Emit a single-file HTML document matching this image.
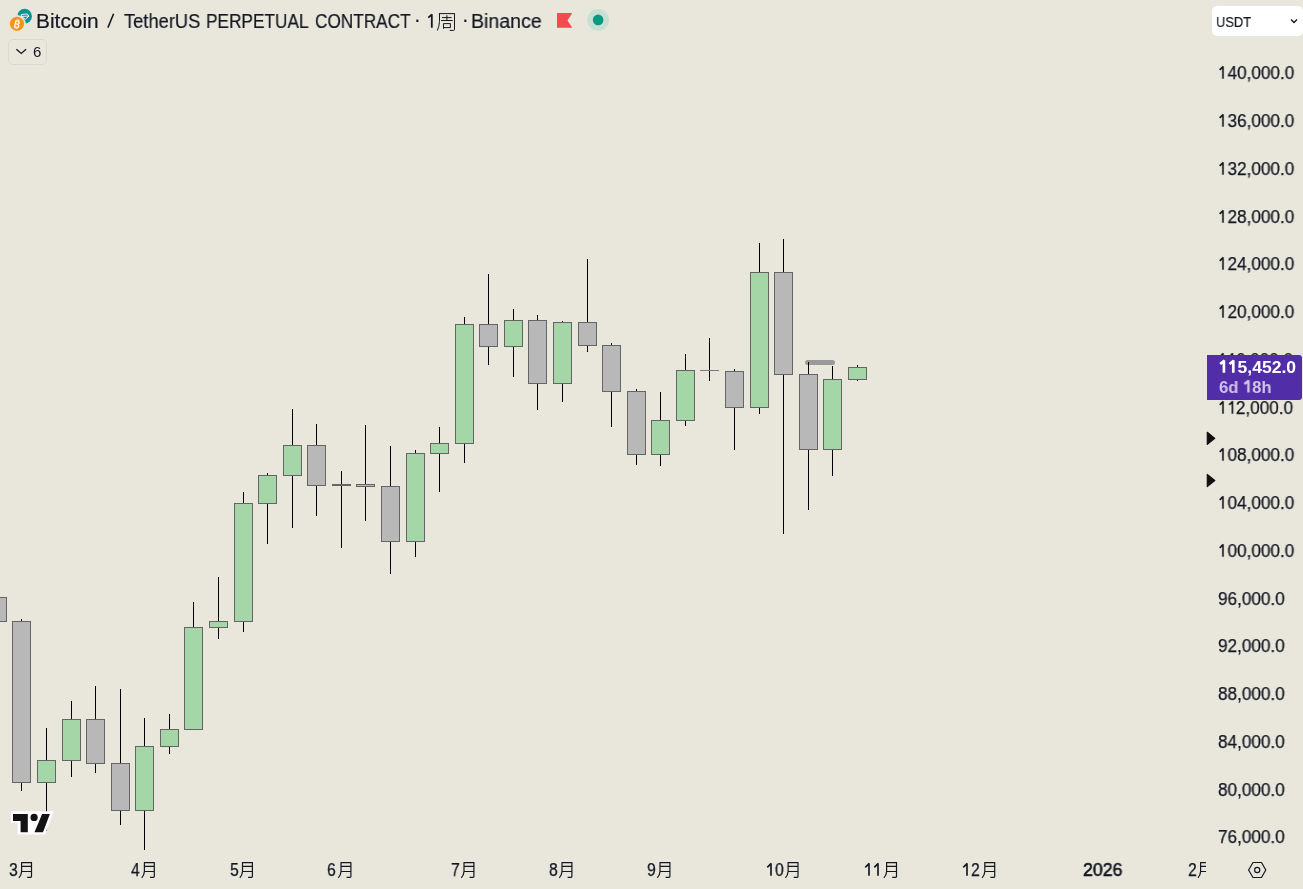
<!DOCTYPE html>
<html><head><meta charset="utf-8"><style>
*{margin:0;padding:0;box-sizing:border-box}
html,body{width:1303px;height:889px;overflow:hidden;background:#E9E7DC;font-family:"Liberation Sans",sans-serif;color:#131722}
.abs{position:absolute;white-space:pre;line-height:1;will-change:transform}
.pl{position:absolute;will-change:transform;-webkit-text-stroke:0.25px #131722;left:1218.05px;font-size:18px;line-height:18px;white-space:pre;transform:scaleX(0.953);transform-origin:0 0;color:#131722}
.tl{position:absolute;will-change:transform;-webkit-text-stroke:0.25px #131722;top:860.9px;font-size:18px;line-height:18px;white-space:pre;transform:scaleX(0.87);transform-origin:0 0;color:#131722}
.hd{position:absolute;will-change:transform;-webkit-text-stroke:0.2px #131722;top:10.6px;font-size:20px;line-height:20px;white-space:pre;transform-origin:0 0;color:#131722}
#chart{position:absolute;left:0;top:0}
.ph{color:transparent;-webkit-text-stroke-color:transparent}
</style></head><body>
<svg id="chart" width="1303" height="889" viewBox="0 0 1303 889" shape-rendering="crispEdges">
<rect x="805" y="360" width="30" height="5" rx="2.5" fill="#9A9A9A" shape-rendering="geometricPrecision"/>
<g>
<rect x="-12" y="597" width="19" height="25" fill="#656565"/>
<rect x="-11" y="598" width="17" height="23" fill="#B8B8B8"/>
<rect x="21" y="619" width="1" height="172" fill="#000000"/>
<rect x="12" y="621" width="19" height="162" fill="#656565"/>
<rect x="13" y="622" width="17" height="160" fill="#B8B8B8"/>
<rect x="46" y="728" width="1" height="103" fill="#000000"/>
<rect x="37" y="760" width="19" height="23" fill="#656565"/>
<rect x="38" y="761" width="17" height="21" fill="#A5D6A7"/>
<rect x="71" y="701" width="1" height="76" fill="#000000"/>
<rect x="62" y="719" width="19" height="42" fill="#656565"/>
<rect x="63" y="720" width="17" height="40" fill="#A5D6A7"/>
<rect x="95" y="686" width="1" height="87" fill="#000000"/>
<rect x="86" y="719" width="19" height="45" fill="#656565"/>
<rect x="87" y="720" width="17" height="43" fill="#B8B8B8"/>
<rect x="120" y="689" width="1" height="136" fill="#000000"/>
<rect x="111" y="763" width="19" height="48" fill="#656565"/>
<rect x="112" y="764" width="17" height="46" fill="#B8B8B8"/>
<rect x="144" y="718" width="1" height="132" fill="#000000"/>
<rect x="135" y="746" width="19" height="65" fill="#656565"/>
<rect x="136" y="747" width="17" height="63" fill="#A5D6A7"/>
<rect x="169" y="714" width="1" height="40" fill="#000000"/>
<rect x="160" y="729" width="19" height="18" fill="#656565"/>
<rect x="161" y="730" width="17" height="16" fill="#A5D6A7"/>
<rect x="193" y="602" width="1" height="127" fill="#000000"/>
<rect x="184" y="627" width="19" height="103" fill="#656565"/>
<rect x="185" y="628" width="17" height="101" fill="#A5D6A7"/>
<rect x="218" y="577" width="1" height="62" fill="#000000"/>
<rect x="209" y="621" width="19" height="7" fill="#656565"/>
<rect x="210" y="622" width="17" height="5" fill="#A5D6A7"/>
<rect x="243" y="492" width="1" height="140" fill="#000000"/>
<rect x="234" y="503" width="19" height="119" fill="#656565"/>
<rect x="235" y="504" width="17" height="117" fill="#A5D6A7"/>
<rect x="267" y="473" width="1" height="71" fill="#000000"/>
<rect x="258" y="475" width="19" height="29" fill="#656565"/>
<rect x="259" y="476" width="17" height="27" fill="#A5D6A7"/>
<rect x="292" y="409" width="1" height="119" fill="#000000"/>
<rect x="283" y="445" width="19" height="31" fill="#656565"/>
<rect x="284" y="446" width="17" height="29" fill="#A5D6A7"/>
<rect x="316" y="424" width="1" height="92" fill="#000000"/>
<rect x="307" y="445" width="19" height="41" fill="#656565"/>
<rect x="308" y="446" width="17" height="39" fill="#B8B8B8"/>
<rect x="341" y="471" width="1" height="77" fill="#000000"/>
<rect x="332" y="484" width="19" height="2" fill="#656565"/>
<rect x="365" y="425" width="1" height="96" fill="#000000"/>
<rect x="356" y="484" width="19" height="3" fill="#656565"/>
<rect x="357" y="485" width="17" height="1" fill="#B8B8B8"/>
<rect x="390" y="446" width="1" height="128" fill="#000000"/>
<rect x="381" y="486" width="19" height="56" fill="#656565"/>
<rect x="382" y="487" width="17" height="54" fill="#B8B8B8"/>
<rect x="415" y="450" width="1" height="107" fill="#000000"/>
<rect x="406" y="453" width="19" height="89" fill="#656565"/>
<rect x="407" y="454" width="17" height="87" fill="#A5D6A7"/>
<rect x="439" y="427" width="1" height="65" fill="#000000"/>
<rect x="430" y="443" width="19" height="11" fill="#656565"/>
<rect x="431" y="444" width="17" height="9" fill="#A5D6A7"/>
<rect x="464" y="317" width="1" height="146" fill="#000000"/>
<rect x="455" y="324" width="19" height="120" fill="#656565"/>
<rect x="456" y="325" width="17" height="118" fill="#A5D6A7"/>
<rect x="488" y="274" width="1" height="91" fill="#000000"/>
<rect x="479" y="324" width="19" height="23" fill="#656565"/>
<rect x="480" y="325" width="17" height="21" fill="#B8B8B8"/>
<rect x="513" y="309" width="1" height="68" fill="#000000"/>
<rect x="504" y="320" width="19" height="27" fill="#656565"/>
<rect x="505" y="321" width="17" height="25" fill="#A5D6A7"/>
<rect x="537" y="315" width="1" height="95" fill="#000000"/>
<rect x="528" y="320" width="19" height="64" fill="#656565"/>
<rect x="529" y="321" width="17" height="62" fill="#B8B8B8"/>
<rect x="562" y="321" width="1" height="81" fill="#000000"/>
<rect x="553" y="322" width="19" height="62" fill="#656565"/>
<rect x="554" y="323" width="17" height="60" fill="#A5D6A7"/>
<rect x="587" y="259" width="1" height="93" fill="#000000"/>
<rect x="578" y="322" width="19" height="24" fill="#656565"/>
<rect x="579" y="323" width="17" height="22" fill="#B8B8B8"/>
<rect x="611" y="343" width="1" height="84" fill="#000000"/>
<rect x="602" y="345" width="19" height="47" fill="#656565"/>
<rect x="603" y="346" width="17" height="45" fill="#B8B8B8"/>
<rect x="636" y="389" width="1" height="76" fill="#000000"/>
<rect x="627" y="391" width="19" height="64" fill="#656565"/>
<rect x="628" y="392" width="17" height="62" fill="#B8B8B8"/>
<rect x="660" y="392" width="1" height="74" fill="#000000"/>
<rect x="651" y="420" width="19" height="35" fill="#656565"/>
<rect x="652" y="421" width="17" height="33" fill="#A5D6A7"/>
<rect x="685" y="354" width="1" height="72" fill="#000000"/>
<rect x="676" y="370" width="19" height="51" fill="#656565"/>
<rect x="677" y="371" width="17" height="49" fill="#A5D6A7"/>
<rect x="709" y="338" width="1" height="43" fill="#000000"/>
<rect x="700" y="370" width="19" height="1" fill="#7A7A7A"/>
<rect x="734" y="369" width="1" height="81" fill="#000000"/>
<rect x="725" y="371" width="19" height="37" fill="#656565"/>
<rect x="726" y="372" width="17" height="35" fill="#B8B8B8"/>
<rect x="759" y="243" width="1" height="171" fill="#000000"/>
<rect x="750" y="272" width="19" height="136" fill="#656565"/>
<rect x="751" y="273" width="17" height="134" fill="#A5D6A7"/>
<rect x="783" y="239" width="1" height="295" fill="#000000"/>
<rect x="774" y="272" width="19" height="103" fill="#656565"/>
<rect x="775" y="273" width="17" height="101" fill="#B8B8B8"/>
<rect x="808" y="362" width="1" height="148" fill="#000000"/>
<rect x="799" y="374" width="19" height="76" fill="#656565"/>
<rect x="800" y="375" width="17" height="74" fill="#B8B8B8"/>
<rect x="832" y="366" width="1" height="110" fill="#000000"/>
<rect x="823" y="379" width="19" height="71" fill="#656565"/>
<rect x="824" y="380" width="17" height="69" fill="#A5D6A7"/>
<rect x="857" y="365" width="1" height="16" fill="#000000"/>
<rect x="848" y="367" width="19" height="13" fill="#656565"/>
<rect x="849" y="368" width="17" height="11" fill="#A5D6A7"/>
</g>
<g shape-rendering="geometricPrecision">
<path d="M10.9 811.2 H53.6 L45.1 834.6 H17.7 V823.1 H10.9 Z" fill="#FFFFFF"/>
<path d="M13 814 H27.8 V832.2 H20.6 V821 H13 Z" fill="#131313"/>
<path d="M42.1 814 H49.9 L43 832.2 H34.5 Z" fill="#131313"/>
<circle cx="34.1" cy="817.4" r="3.6" fill="#131313"/>
</g>
<clipPath id="clipChart"><rect x="0" y="0" width="1206" height="889"/></clipPath>
<g shape-rendering="geometricPrecision" clip-path="url(#clipChart)">
<g transform="translate(18.0 862)" fill="none" stroke="#131722" stroke-width="1.2"><path d="M3.1 0.6 H14 M3.6 0.6 V9.6 Q3.4 13 0.9 15.8 M13.5 0.6 V14.6 Q13.5 15.4 12.6 15.4 H9.2 M3.6 4.4 H13.5 M3.6 9.5 H13.5"/></g>
<g transform="translate(140.8 862)" fill="none" stroke="#131722" stroke-width="1.2"><path d="M3.1 0.6 H14 M3.6 0.6 V9.6 Q3.4 13 0.9 15.8 M13.5 0.6 V14.6 Q13.5 15.4 12.6 15.4 H9.2 M3.6 4.4 H13.5 M3.6 9.5 H13.5"/></g>
<g transform="translate(238.9 862)" fill="none" stroke="#131722" stroke-width="1.2"><path d="M3.1 0.6 H14 M3.6 0.6 V9.6 Q3.4 13 0.9 15.8 M13.5 0.6 V14.6 Q13.5 15.4 12.6 15.4 H9.2 M3.6 4.4 H13.5 M3.6 9.5 H13.5"/></g>
<g transform="translate(337.4 862)" fill="none" stroke="#131722" stroke-width="1.2"><path d="M3.1 0.6 H14 M3.6 0.6 V9.6 Q3.4 13 0.9 15.8 M13.5 0.6 V14.6 Q13.5 15.4 12.6 15.4 H9.2 M3.6 4.4 H13.5 M3.6 9.5 H13.5"/></g>
<g transform="translate(460.4 862)" fill="none" stroke="#131722" stroke-width="1.2"><path d="M3.1 0.6 H14 M3.6 0.6 V9.6 Q3.4 13 0.9 15.8 M13.5 0.6 V14.6 Q13.5 15.4 12.6 15.4 H9.2 M3.6 4.4 H13.5 M3.6 9.5 H13.5"/></g>
<g transform="translate(558.4 862)" fill="none" stroke="#131722" stroke-width="1.2"><path d="M3.1 0.6 H14 M3.6 0.6 V9.6 Q3.4 13 0.9 15.8 M13.5 0.6 V14.6 Q13.5 15.4 12.6 15.4 H9.2 M3.6 4.4 H13.5 M3.6 9.5 H13.5"/></g>
<g transform="translate(656.4 862)" fill="none" stroke="#131722" stroke-width="1.2"><path d="M3.1 0.6 H14 M3.6 0.6 V9.6 Q3.4 13 0.9 15.8 M13.5 0.6 V14.6 Q13.5 15.4 12.6 15.4 H9.2 M3.6 4.4 H13.5 M3.6 9.5 H13.5"/></g>
<g transform="translate(784.5 862)" fill="none" stroke="#131722" stroke-width="1.2"><path d="M3.1 0.6 H14 M3.6 0.6 V9.6 Q3.4 13 0.9 15.8 M13.5 0.6 V14.6 Q13.5 15.4 12.6 15.4 H9.2 M3.6 4.4 H13.5 M3.6 9.5 H13.5"/></g>
<g transform="translate(883.0 862)" fill="none" stroke="#131722" stroke-width="1.2"><path d="M3.1 0.6 H14 M3.6 0.6 V9.6 Q3.4 13 0.9 15.8 M13.5 0.6 V14.6 Q13.5 15.4 12.6 15.4 H9.2 M3.6 4.4 H13.5 M3.6 9.5 H13.5"/></g>
<g transform="translate(981.2 862)" fill="none" stroke="#131722" stroke-width="1.2"><path d="M3.1 0.6 H14 M3.6 0.6 V9.6 Q3.4 13 0.9 15.8 M13.5 0.6 V14.6 Q13.5 15.4 12.6 15.4 H9.2 M3.6 4.4 H13.5 M3.6 9.5 H13.5"/></g>
<g transform="translate(1197.0 862)" fill="none" stroke="#131722" stroke-width="1.2"><path d="M3.1 0.6 H14 M3.6 0.6 V9.6 Q3.4 13 0.9 15.8 M13.5 0.6 V14.6 Q13.5 15.4 12.6 15.4 H9.2 M3.6 4.4 H13.5 M3.6 9.5 H13.5"/></g>
</g>
</svg>
<!-- header -->
<svg class="abs" style="left:0;top:0" width="40" height="40" viewBox="0 0 40 40">
 <circle cx="24.6" cy="16.2" r="7.35" fill="#0C9494"/>
 <circle cx="17" cy="23.8" r="8.7" fill="#E9E7DC"/>
 <circle cx="17" cy="23.8" r="7.1" fill="#F7931A"/>
 <path d="M21.3 14.6 L27.2 13.9 L28.9 16.1 L25.4 19.3 L21.4 16.4 Z M21.4 16.4 L28.9 16.1" fill="none" stroke="#fff" stroke-width="0.9" stroke-linejoin="round"/>
 <g transform="rotate(14 17 24)">
  <text x="17.2" y="27.9" font-family="Liberation Sans" font-weight="bold" font-size="10.5" fill="#fff" text-anchor="middle" transform="translate(17.2 0) scale(0.8 1) translate(-17.2 0)">B</text>
  <path d="M16.2 19.2 V20.6 M18 19.2 V20.6 M16.2 27.6 V29 M18 27.6 V29" stroke="#fff" stroke-width="0.9"/>
 </g>
</svg>
<div class="hd" style="left:36.1px;transform:scaleX(1.045)">Bitcoin</div>
<svg class="abs" style="left:100px;top:8px" width="20" height="24" viewBox="100 8 20 24"><path d="M107.9 27.6 L113.6 13.7" stroke="#131722" stroke-width="1.55" fill="none"/></svg>
<div class="hd" style="left:123.8px;transform:scaleX(0.916)">TetherUS</div>
<div class="hd" style="left:206.4px;transform:scaleX(0.862)">PERPETUAL</div>
<div class="hd" style="left:314.8px;transform:scaleX(0.86)">CONTRACT</div>
<div class="hd" style="left:414.2px;top:9.1px">·</div>
<svg class="abs" style="left:424px;top:8px" width="12" height="24" viewBox="424 8 12 24"><path d="M431.8 14.2 V27.7 M431.9 14.4 L428.3 17.6" stroke="#131722" stroke-width="1.8" fill="none" stroke-linejoin="round"/></svg>
<div class="hd" style="left:462.1px;top:9.1px">·</div>
<div class="hd" style="left:470.6px;transform:scaleX(0.977)">Binance</div>
<svg class="abs" style="left:436px;top:12px" width="21" height="21" viewBox="0 0 21 21" fill="none" stroke="#131722" stroke-width="1">
 <path d="M2.9 1.6 H18.9 M3.5 1.6 V9.4 Q3.3 14.5 1.3 18.5 M18.5 1.6 V17.4 Q18.5 18.4 17.6 18.4 H13.7 M6 5.6 H15.6 M10.9 3.2 V8.5 M5.1 8.5 H16.7 M7.5 11.6 V16.8 M7.5 11.6 H14.4 V15.6 M7.5 15.6 H14.4"/>
</svg>
<svg class="abs" style="left:555px;top:11px" width="20" height="20" viewBox="0 0 20 20">
 <path d="M2 2 H17.3 L12.5 9.5 L17.3 16.8 H2 Z" fill="#F24C4C"/>
</svg>
<svg class="abs" style="left:586px;top:8px" width="24" height="24" viewBox="0 0 24 24">
 <circle cx="12.1" cy="11.9" r="10.9" fill="#C8DFD3"/>
 <circle cx="12.1" cy="11.9" r="5.3" fill="#089981"/>
</svg>
<!-- legend button -->
<div class="abs" style="left:8.3px;top:39.3px;width:39px;height:26px;border:1px solid #D9D8D3;border-radius:5px"></div>
<svg class="abs" style="left:14px;top:46px" width="14" height="10" viewBox="0 0 14 10">
 <path d="M2.4 3.2 L7.25 7.4 L12.1 3.2" fill="none" stroke="#131722" stroke-width="1.3"/>
</svg>
<div class="abs" style="left:32.6px;top:43.5px;font-size:15px;line-height:15px">6</div>
<!-- USDT -->
<div class="abs" style="left:1211.9px;top:5.7px;width:91px;height:30.3px;background:#fff;border-radius:5px"></div>
<div class="abs" style="left:1215.5px;top:13.8px;font-size:15.5px;line-height:15.5px;color:#131722;-webkit-text-stroke:0.2px #131722;transform:scaleX(0.83);transform-origin:0 0">USDT</div>
<svg class="abs" style="left:1288px;top:16px" width="12" height="10" viewBox="0 0 12 10">
 <path d="M3 3.4 L6 6.4 L9 3.4" fill="none" stroke="#131722" stroke-width="1.4"/>
</svg>
<!-- price labels -->
<div class="pl" style="top:63.90px"><span class="ph">1</span>40,000.0<svg style="position:absolute;left:0;top:0;overflow:visible" width="40" height="18" viewBox="0 0 40 18"><path d="M5.19 2.3 V14.85 M5.45 2.3 L1.75 5.85" fill="none" stroke="#131722" stroke-width="1.75"/></svg></div>
<div class="pl" style="top:111.90px"><span class="ph">1</span>36,000.0<svg style="position:absolute;left:0;top:0;overflow:visible" width="40" height="18" viewBox="0 0 40 18"><path d="M5.19 2.3 V14.85 M5.45 2.3 L1.75 5.85" fill="none" stroke="#131722" stroke-width="1.75"/></svg></div>
<div class="pl" style="top:159.90px"><span class="ph">1</span>32,000.0<svg style="position:absolute;left:0;top:0;overflow:visible" width="40" height="18" viewBox="0 0 40 18"><path d="M5.19 2.3 V14.85 M5.45 2.3 L1.75 5.85" fill="none" stroke="#131722" stroke-width="1.75"/></svg></div>
<div class="pl" style="top:207.90px"><span class="ph">1</span>28,000.0<svg style="position:absolute;left:0;top:0;overflow:visible" width="40" height="18" viewBox="0 0 40 18"><path d="M5.19 2.3 V14.85 M5.45 2.3 L1.75 5.85" fill="none" stroke="#131722" stroke-width="1.75"/></svg></div>
<div class="pl" style="top:254.90px"><span class="ph">1</span>24,000.0<svg style="position:absolute;left:0;top:0;overflow:visible" width="40" height="18" viewBox="0 0 40 18"><path d="M5.19 2.3 V14.85 M5.45 2.3 L1.75 5.85" fill="none" stroke="#131722" stroke-width="1.75"/></svg></div>
<div class="pl" style="top:302.90px"><span class="ph">1</span>20,000.0<svg style="position:absolute;left:0;top:0;overflow:visible" width="40" height="18" viewBox="0 0 40 18"><path d="M5.19 2.3 V14.85 M5.45 2.3 L1.75 5.85" fill="none" stroke="#131722" stroke-width="1.75"/></svg></div>
<div class="pl" style="top:350.90px"><span class="ph">1</span><span class="ph">1</span>6,000.0<svg style="position:absolute;left:0;top:0;overflow:visible" width="40" height="18" viewBox="0 0 40 18"><path d="M5.19 2.3 V14.85 M5.45 2.3 L1.75 5.85 M15.20 2.3 V14.85 M15.46 2.3 L11.76 5.85" fill="none" stroke="#131722" stroke-width="1.75"/></svg></div>
<div class="pl" style="top:398.90px"><span class="ph">1</span><span class="ph">1</span>2,000.0<svg style="position:absolute;left:0;top:0;overflow:visible" width="40" height="18" viewBox="0 0 40 18"><path d="M5.19 2.3 V14.85 M5.45 2.3 L1.75 5.85 M15.20 2.3 V14.85 M15.46 2.3 L11.76 5.85" fill="none" stroke="#131722" stroke-width="1.75"/></svg></div>
<div class="pl" style="top:445.90px"><span class="ph">1</span>08,000.0<svg style="position:absolute;left:0;top:0;overflow:visible" width="40" height="18" viewBox="0 0 40 18"><path d="M5.19 2.3 V14.85 M5.45 2.3 L1.75 5.85" fill="none" stroke="#131722" stroke-width="1.75"/></svg></div>
<div class="pl" style="top:493.90px"><span class="ph">1</span>04,000.0<svg style="position:absolute;left:0;top:0;overflow:visible" width="40" height="18" viewBox="0 0 40 18"><path d="M5.19 2.3 V14.85 M5.45 2.3 L1.75 5.85" fill="none" stroke="#131722" stroke-width="1.75"/></svg></div>
<div class="pl" style="top:541.90px"><span class="ph">1</span>00,000.0<svg style="position:absolute;left:0;top:0;overflow:visible" width="40" height="18" viewBox="0 0 40 18"><path d="M5.19 2.3 V14.85 M5.45 2.3 L1.75 5.85" fill="none" stroke="#131722" stroke-width="1.75"/></svg></div>
<div class="pl" style="top:589.90px">96,000.0</div>
<div class="pl" style="top:636.90px">92,000.0</div>
<div class="pl" style="top:684.90px">88,000.0</div>
<div class="pl" style="top:732.90px">84,000.0</div>
<div class="pl" style="top:780.90px">80,000.0</div>
<div class="pl" style="top:827.90px">76,000.0</div>
<!-- current price label -->
<div class="abs" style="left:1207px;top:355px;width:95px;height:45px;background:#512DA8;border-radius:0 3px 3px 0"></div>
<div class="abs" style="left:1219px;top:359.2px;font-size:17px;line-height:17px;font-weight:bold;color:#fff;transform:scaleX(1.031);transform-origin:0 0"><span class="ph">11</span>5,452.0<svg style="position:absolute;left:0;top:0;overflow:visible" width="20" height="17" viewBox="0 0 20 17"><path d="M4.75 1.3 V13.7 M5.3 1.5 L1.1 4.9 M13.87 1.3 V13.7 M14.4 1.5 L10.2 4.9" fill="none" stroke="#fff" stroke-width="2.6"/></svg></div>
<div class="abs" style="left:1218.6px;top:379.2px;font-size:17px;line-height:17px;font-weight:bold;color:#D1C4E9;transform:scaleX(0.975);transform-origin:0 0">6d <span class="ph">1</span>8h<svg style="position:absolute;left:0;top:0;overflow:visible" width="40" height="17" viewBox="0 0 40 17"><path d="M30.15 1.3 V13.6 M30.7 1.5 L26.05 5.1" fill="none" stroke="#D1C4E9" stroke-width="2.5"/></svg></div>
<!-- triangles -->
<svg class="abs" style="left:1206px;top:430px" width="12" height="60" viewBox="0 0 12 60">
 <path d="M1.3 2.3 L8.8 8.35 L1.3 14.4 Z" fill="#111" stroke="#111" stroke-width="1.2" stroke-linejoin="round"/>
 <path d="M1.3 44.4 L8.8 50.5 L1.3 56.6 Z" fill="#111" stroke="#111" stroke-width="1.2" stroke-linejoin="round"/>
</svg>
<!-- time labels -->
<div style="position:absolute;left:0;top:0;width:1206.3px;height:889px;overflow:hidden">
<div class="tl" style="left:8.6px">3</div>
<div class="tl" style="left:130.9px">4</div>
<div class="tl" style="left:229.6px">5</div>
<div class="tl" style="left:327.2px">6</div>
<div class="tl" style="left:450.9px">7</div>
<div class="tl" style="left:549.1px">8</div>
<div class="tl" style="left:647.2px">9</div>
<svg class="abs" style="left:765.6px;top:860px" width="8" height="18" viewBox="765.6 860 8 18"><path d="M770.60 863.3 V875.8 M770.85 863.3 L766.90 867.3" fill="none" stroke="#131722" stroke-width="1.65"/></svg>
<div class="tl" style="left:774.7px">0</div>
<svg class="abs" style="left:863.8px;top:860px" width="8" height="18" viewBox="863.8 860 8 18"><path d="M868.80 863.3 V875.8 M869.05 863.3 L865.10 867.3" fill="none" stroke="#131722" stroke-width="1.65"/></svg>
<svg class="abs" style="left:873.0px;top:860px" width="8" height="18" viewBox="873.0 860 8 18"><path d="M878.00 863.3 V875.8 M878.25 863.3 L874.30 867.3" fill="none" stroke="#131722" stroke-width="1.65"/></svg>
<svg class="abs" style="left:961.9px;top:860px" width="8" height="18" viewBox="961.9 860 8 18"><path d="M966.90 863.3 V875.8 M967.15 863.3 L963.20 867.3" fill="none" stroke="#131722" stroke-width="1.65"/></svg>
<div class="tl" style="left:971.3px">2</div>
<div class="tl" style="left:1187.5px">2</div>
</div>
<div class="abs" style="left:1082.6px;top:860.9px;font-size:18px;line-height:18px;-webkit-text-stroke:0.6px #131722;transform:scaleX(0.985);transform-origin:0 0">2026</div>
<!-- settings -->
<svg class="abs" style="left:1246px;top:860px" width="22" height="20" viewBox="0 0 22 20">
 <path d="M2.6 10 L7 2.5 H15.5 L19.8 10 L15.5 17.5 H7 Z" fill="none" stroke="#131722" stroke-width="1.2"/>
 <circle cx="11.2" cy="10" r="2.6" fill="none" stroke="#131722" stroke-width="1.2"/>
</svg>
</body></html>
